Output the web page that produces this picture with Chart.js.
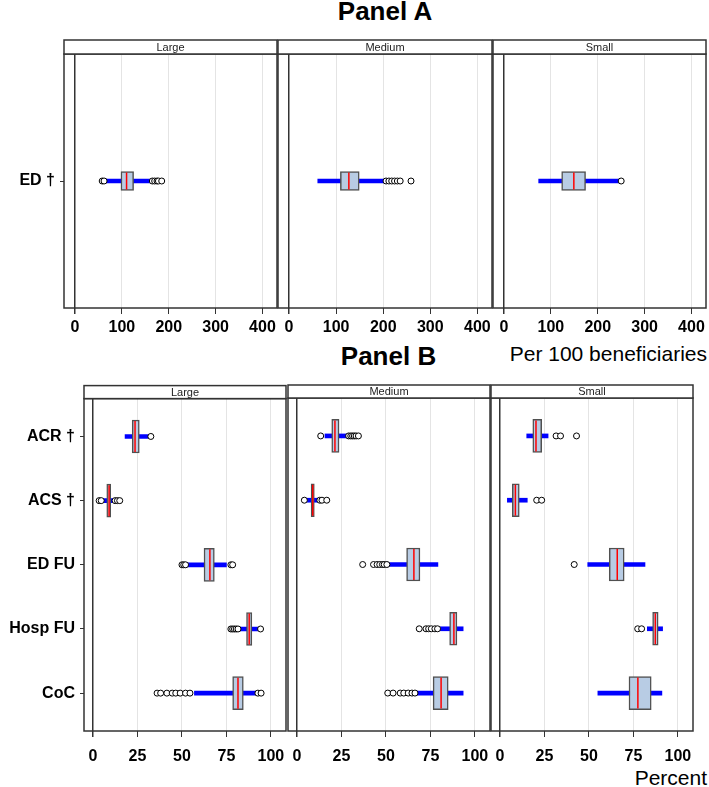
<!DOCTYPE html>
<html>
<head>
<meta charset="utf-8">
<script src="https://cdn.jsdelivr.net/npm/chart.js@4.4.1/dist/chart.umd.min.js"></script>
<style>
  body { margin: 0; background: #fff; width: 709px; height: 787px; position: relative; overflow: hidden;
         font-family: 'Liberation Sans', Arial, sans-serif; }
  canvas { position: absolute; }
  .title { position: absolute; font-weight: bold; font-size: 26px; text-align: center; }
  .unit { position: absolute; font-size: 21px; right: 2px; }
</style>
</head>
<body>
<div class="title" style="left:64px;width:642px;top:-4px">Panel A</div>
<div class="unit" style="top:342px">Per 100 beneficiaries</div>
<div class="title" style="left:84px;width:609px;top:341px">Panel B</div>
<div class="unit" style="top:766px">Percent</div>

<script>
const groups = ['Large', 'Medium', 'Small'];

// Panel A: ED visits per 100 beneficiaries (one row per group)
const aCategories = ['ED †'];
const aTicks = [0, 100, 200, 300, 400];
const aLow  = [[64], [61], [74]];
const aQ1   = [[98], [109], [123]];
const aMed  = [[110], [127], [149]];
const aQ3   = [[125], [149], [174]];
const aHigh = [[160], [202], [245]];
const aOutliers = [
  [[58, 62, 165, 170, 175, 178, 185]],
  [[206, 212, 218, 224, 230, 236, 259]],
  [[250]]
];

// Panel B: percent measures
const bCategories = ['ACR †', 'ACS †', 'ED FU', 'Hosp FU', 'CoC'];
const bTicks = [0, 25, 50, 75, 100];
const bLow  = [[18, 5.5, 52.6, 82.6, 57], [15.7, 5.4, 51.3, 79.5, 67.5], [15, 4.1, 49.3, 82.8, 55]];
const bQ1   = [[22, 7.7, 62.4, 86.3, 78.5], [19.5, 7.9, 61.6, 85.8, 76.5], [18.4, 6.9, 61.4, 85.8, 72.5]];
const bMed  = [[23.6, 9, 65.7, 87.8, 81.5], [21.3, 8.8, 65.7, 88.2, 81], [20.2, 8.6, 65.9, 87.3, 77.5]];
const bQ3   = [[26, 9.9, 68.2, 89.3, 84.5], [23.6, 9.7, 69.1, 89.9, 85], [23.4, 10.8, 69.8, 88.9, 85]];
const bHigh = [[31, 11.5, 75, 92.9, 91.5], [28.5, 12, 79.2, 93.4, 93.4], [27, 15.3, 81.5, 91.4, 91]];
const bOutliers = [
  [[32.5], [3.4, 4.6, 12.4, 13.7, 15], [50, 51, 52, 77.5, 78.5], [77.5, 78.5, 79.5, 80.5, 81.5, 94.2],
   [36, 38, 41.5, 44.5, 46.5, 49, 52, 54.5, 92.7, 94.5]],
  [[13.3, 29, 30.2, 31.2, 32.2, 33.2, 34.5], [4.1, 12.8, 14, 16.7], [36.9, 43, 45, 46.5, 48, 49, 50.5],
   [68.7, 72.5, 74, 75.5, 77.5, 79], [51, 54, 58, 60, 62.5, 64.6, 66.3]],
  [[31.5, 34, 43], [20.6, 23.4], [41.7], [77.4, 79.6], []]
];

const FONT = "'Liberation Sans', Arial, sans-serif";

const facetFrame = {
  id: 'facetFrame',
  afterDraw(chart, args, o) {
    const { ctx, chartArea: a } = chart;
    ctx.save();
    ctx.strokeStyle = '#333';
    ctx.lineWidth = 1.5;
    ctx.strokeRect(a.left, a.top, a.right - a.left, a.bottom - a.top);
    ctx.fillStyle = '#fff';
    ctx.fillRect(a.left, a.top - o.strip, a.right - a.left, o.strip);
    ctx.strokeRect(a.left, a.top - o.strip, a.right - a.left, o.strip);
    ctx.fillStyle = '#222';
    ctx.font = '11px ' + FONT;
    ctx.textAlign = 'center';
    ctx.textBaseline = 'middle';
    ctx.fillText(o.label, (a.left + a.right) / 2, a.top - o.strip / 2 + 0.5);
    ctx.restore();
  }
};

function makeFacet(p, g) {
  const first = g === 0;
  const left = p.facets[g][0], right = p.facets[g][1];
  const cv = document.createElement('canvas');
  const cLeft = first ? 0 : left - 1;
  const w = right + 1 - cLeft;
  const h = 1 + p.strip + (p.plotBottom - p.plotTop) + p.axisH;
  cv.width = w; cv.height = h;
  cv.style.left = cLeft + 'px';
  cv.style.top = (p.plotTop - p.strip - 1) + 'px';
  document.body.appendChild(cv);

  const cats = p.cats;
  const datasets = [
    { type: 'bar', indexAxis: 'y', grouped: false, order: 3,
      data: cats.map((c, i) => ({ x: [p.low[g][i], p.high[g][i]], y: i })),
      backgroundColor: '#0000ff', barThickness: 4 },
    { type: 'bar', indexAxis: 'y', grouped: false, order: 2,
      data: cats.map((c, i) => ({ x: [p.q1[g][i], p.q3[g][i]], y: i })),
      backgroundColor: '#b8cce4', borderColor: '#505050', borderWidth: 1.5, borderSkipped: false,
      barThickness: p.boxSize },
    { type: 'scatter', order: 1,
      data: cats.map((c, i) => ({ x: p.med[g][i], y: i })),
      pointStyle: 'line', rotation: 90, radius: p.boxSize / 2 - 1,
      borderColor: '#ff0000', borderWidth: 1.5 },
    { type: 'scatter', order: 0,
      data: p.outliers[g].flatMap((arr, i) => arr.map(v => ({ x: v, y: i }))),
      pointStyle: 'circle', radius: 3, backgroundColor: '#ffffff', borderColor: '#000000', borderWidth: 1 }
  ];

  new Chart(cv.getContext('2d'), {
    type: 'bar',
    data: { datasets },
    plugins: [facetFrame],
    options: {
      indexAxis: 'y',
      responsive: false,
      animation: false,
      layout: { autoPadding: false, padding: { top: p.strip + 1, left: first ? 0 : 1, right: 1, bottom: 0 } },
      scales: {
        x: {
          type: 'linear', min: p.min, max: p.max, offset: false,
          afterBuildTicks: s => { s.ticks = p.ticks.map(v => ({ value: v })); },
          afterFit: s => { s.height = p.axisH; },
          border: { display: false },
          grid: {
            offset: false,
            color: c => (c.tick && c.tick.value === 0) ? '#333333' : '#e4e4e4',
            lineWidth: c => (c.tick && c.tick.value === 0) ? 1.5 : 1,
            tickColor: '#333333', tickLength: 6
          },
          ticks: { color: '#000', padding: 0, maxRotation: 0,
                   font: { family: FONT, size: 16, weight: 'bold', lineHeight: p.labelLH + 'px' } }
        },
        y: {
          type: 'linear', reverse: true, display: first, offset: false,
          min: -p.pad, max: cats.length - 1 + p.pad,
          afterBuildTicks: s => { s.ticks = cats.map((c, i) => ({ value: i })); },
          afterFit: s => { if (first) s.width = left; },
          border: { display: false },
          grid: { offset: false, drawOnChartArea: false, tickColor: '#333333', tickLength: 4 },
          ticks: { color: '#000', padding: 5, callback: v => cats[v],
                   font: { family: FONT, size: 16, weight: 'bold' } }
        }
      },
      plugins: {
        legend: { display: false },
        tooltip: { enabled: false },
        facetFrame: { label: groups[g], strip: p.strip }
      }
    }
  });
}

const panelA = {
  cats: aCategories, ticks: aTicks, low: aLow, q1: aQ1, med: aMed, q3: aQ3, high: aHigh, outliers: aOutliers,
  facets: [[64, 277], [278, 492], [493, 706]], min: -23.5, max: 431,
  plotTop: 54, plotBottom: 308, strip: 14, axisH: 34, labelLH: 28, boxSize: 19, pad: 1
};
const panelB = {
  cats: bCategories, ticks: bTicks, low: bLow, q1: bQ1, med: bMed, q3: bQ3, high: bHigh, outliers: bOutliers,
  facets: [[84, 286], [288, 490], [491, 693]], min: -5.1, max: 108.5,
  plotTop: 398, plotBottom: 731, strip: 13, axisH: 46, labelLH: 40, boxSize: 33, pad: 0.59
};

groups.forEach((g, i) => { makeFacet(panelA, i); makeFacet(panelB, i); });
</script>
</body>
</html>
